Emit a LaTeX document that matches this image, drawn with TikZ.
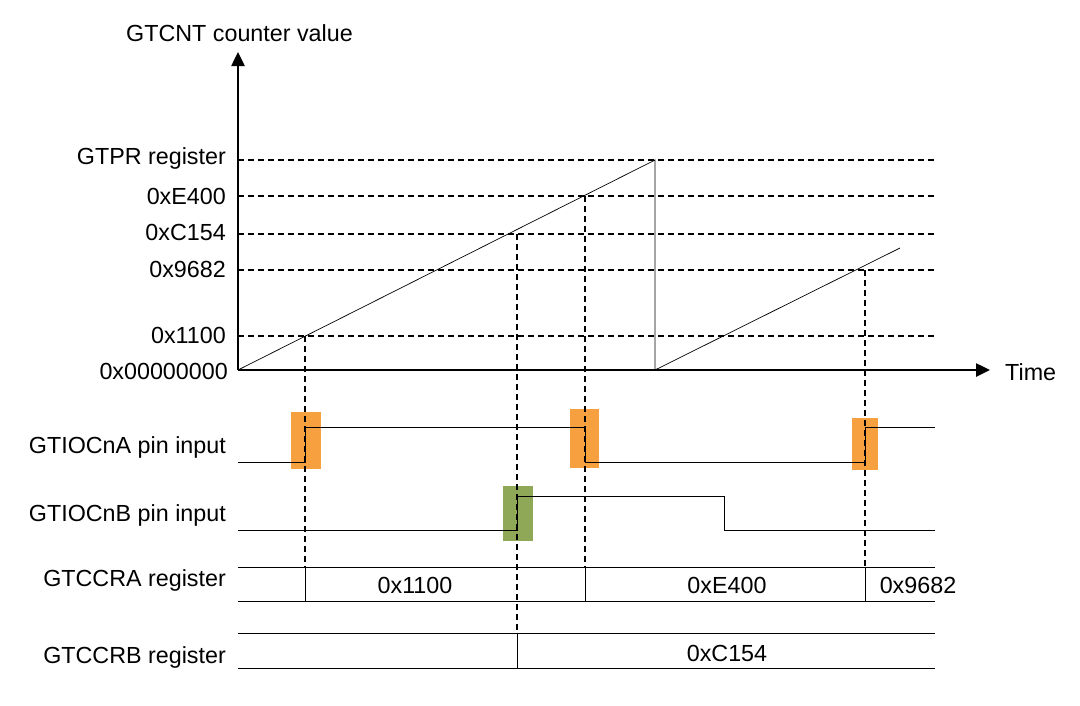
\documentclass[tikz,border=0pt]{standalone}
\usepackage{fontspec}
\setmainfont{Liberation Sans}
\usetikzlibrary{arrows.meta}
\definecolor{orng}{HTML}{F7A040}
\definecolor{olv}{HTML}{8FA857}
\begin{document}
\begin{tikzpicture}[x=1pt,y=-1pt,
  lbl/.style={anchor=east,font=\fontsize{23.3}{26}\selectfont,inner sep=0},
  val/.style={font=\fontsize{23.3}{26}\selectfont,inner sep=0},
  dsh/.style={line width=1.8pt,dash pattern=on 6pt off 4pt},
  sig/.style={line width=0.7pt},
  axis/.style={line width=2.5pt,-{Triangle[length=14pt,width=13pt]}}]
\useasboundingbox (0,0) rectangle (1080,705);
% boxes
\fill[orng] (291,412) rectangle (321,469);
\fill[orng] (570,409) rectangle (599,468);
\fill[orng] (852,418) rectangle (878,470);
\fill[olv] (503,486) rectangle (533,541);
% axes
\coordinate (O) at (238,370);
\coordinate (ytop) at (238,52);
\coordinate (xend) at (990,370);
\draw[axis] (O) -- (ytop);
\draw[axis] (O) -- (xend);
\node[val,anchor=west] (ttl) at (126,33) {GTCNT counter value};
\node[val,anchor=west] (time) at (1005,372) {Time};
% levels
\node[lbl] (lp) at (226,158) {GTPR register};
\node[lbl] (le) at (226,196) {0xE400};
\node[lbl] (lc) at (226,232) {0xC154};
\node[lbl] (l9) at (226,269) {0x9682};
\node[lbl] (l1) at (226,335) {0x1100};
\node[lbl] (l0) at (228,371) {0x00000000};
\foreach \y in {160,196,234,270,336} \draw[dsh] (238,\y) -- (935,\y);
% ramps
\draw[sig] (238,370) -- (655,160) -- (655,370) -- (900,248);
% vertical dashed
\draw[dsh] (305,336) -- (305,567);
\draw[dsh] (517,234) -- (517,633);
\draw[dsh] (585,196) -- (585,567);
\draw[dsh] (865,270) -- (865,567);
% signals
\node[lbl] (la) at (226,447) {GTIOCnA pin input};
\node[lbl] (lb) at (226,515) {GTIOCnB pin input};
\node[lbl] (lra) at (226,580) {GTCCRA register};
\node[lbl] (lrb) at (226,657) {GTCCRB register};
\draw[sig] (238,462) -- (305,462) -- (305,427) -- (585,427) -- (585,462) -- (865,462) -- (865,427) -- (935,427);
\draw[sig] (238,530) -- (517,530) -- (517,496) -- (724,496) -- (724,530) -- (935,530);
\draw[sig] (238,567) -- (935,567) (238,601) -- (935,601);
\foreach \x in {305,585,865} \draw[sig] (\x,567) -- (\x,601);
\draw[sig] (238,633) -- (935,633) (238,668) -- (935,668) (517,633) -- (517,668);
\node[val] (v1) at (415,585) {0x1100};
\node[val] (v2) at (727,585) {0xE400};
\node[val] (v3) at (918,585) {0x9682};
\node[val] (v4) at (727,653) {0xC154};
\end{tikzpicture}
\end{document}
